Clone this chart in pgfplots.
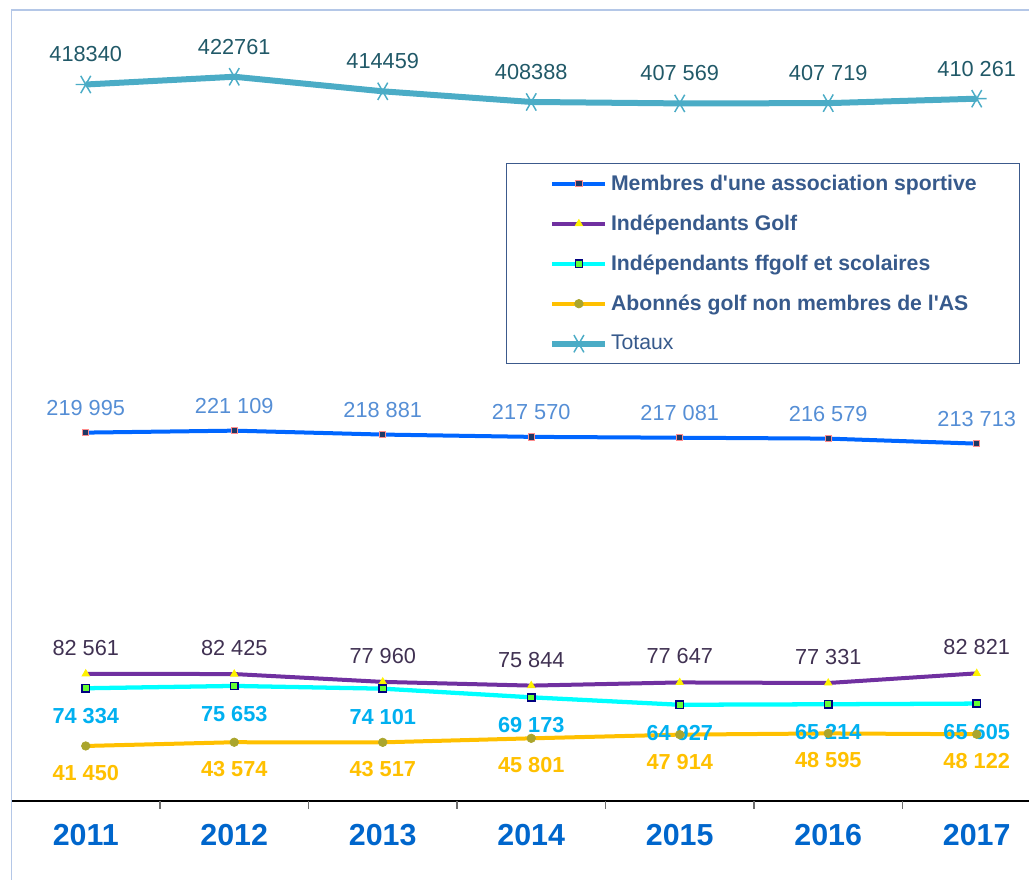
\documentclass[border=0pt]{standalone}
\usepackage{fontspec}
\setmainfont{Liberation Sans}
\usepackage{pgfplots}
\pgfplotsset{compat=1.18}
\definecolor{totalcol}{RGB}{75,172,198}
\definecolor{totallab}{RGB}{33,89,104}
\definecolor{blueline}{RGB}{0,102,255}
\definecolor{bluemark}{RGB}{31,56,100}
\definecolor{pinkmark}{RGB}{255,140,140}
\definecolor{bluelab}{RGB}{85,142,213}
\definecolor{purpline}{RGB}{112,48,160}
\definecolor{purplab}{RGB}{64,49,82}
\definecolor{cyanline}{RGB}{0,255,255}
\definecolor{cyanfill}{RGB}{102,255,51}
\definecolor{cyandraw}{RGB}{0,0,128}
\definecolor{cyanlab}{RGB}{0,176,240}
\definecolor{yelline}{RGB}{255,192,0}
\definecolor{yelmark}{RGB}{170,165,45}
\definecolor{yearblue}{RGB}{0,102,204}
\definecolor{legtext}{RGB}{55,90,140}
\definecolor{legborder}{RGB}{60,90,140}
\definecolor{framecol}{RGB}{180,199,231}
\definecolor{tickgray}{RGB}{110,110,110}
\begin{document}
\begin{tikzpicture}
\begin{axis}[
  name=ax,
  at={(0,0)}, anchor=south west,
  scale only axis,
  width=763.125pt, height=593.25pt,
  xmin=-0.5, xmax=6.352,
  ymin=10100, ymax=460800,
  axis x line*=bottom,
  axis y line=none,
  ytick=\empty,
  x axis line style={black, line width=1.2pt},
  xtick={0,1,2,3,4,5,6},
  xticklabels={2011,2012,2013,2014,2015,2016,2017},
  major tick length=0pt,
  xticklabel style={anchor=center, yshift=-25.5pt, font=\bfseries\fontsize{22.8}{23}\selectfont, text=yearblue},
  extra x ticks={-0.5,0.5,1.5,2.5,3.5,4.5,5.5},
  extra x tick labels={},
  extra x tick style={major tick length=6pt, tick align=outside, tick style={tickgray, line width=0.9pt}},
  clip=false,
  legend cell align=left,
  legend style={
    at={(0.486,0.8066)}, anchor=north west,
    draw=legborder, line width=1.1pt,
    inner xsep=32pt, inner ysep=0pt,
    row sep=0pt, column sep=2pt,
    font=\fontsize{15.9}{18}\selectfont,
    text=legtext,
    nodes={inner sep=0pt, minimum height=30pt, anchor=west},
  },
  legend image code/.code={\draw[mark repeat=2,mark phase=2,#1] plot coordinates {(0pt,0pt) (19.875pt,0pt) (39.75pt,0pt)};},
  every node near coord/.append style={anchor=center, font=\fontsize{16.3}{18}\selectfont},
]
\addplot[blueline, line width=3pt, mark=square*, mark size=2.4pt,
  mark options={fill=bluemark, draw=pinkmark, line width=0.75pt},
  nodes near coords, point meta=explicit symbolic,
  every node near coord/.append style={yshift=18.75pt, text=bluelab}]
  coordinates {(0,219995) [219 995] (1,221109) [221 109] (2,218881) [218 881] (3,217570) [217 570] (4,217081) [217 081] (5,216579) [216 579] (6,213713) [213 713]};
\addlegendentry{\bfseries Membres d\textquotesingle une association sportive}
\addplot[purpline, line width=3pt, mark=triangle*, mark size=3.2pt,
  mark options={fill=yellow, draw=yellow, line width=0.5pt},
  nodes near coords, point meta=explicit symbolic,
  every node near coord/.append style={yshift=19.5pt, text=purplab}]
  coordinates {(0,82561) [82 561] (1,82425) [82 425] (2,77960) [77 960] (3,75844) [75 844] (4,77647) [77 647] (5,77331) [77 331] (6,82821) [82 821]};
\addlegendentry{\bfseries Indépendants Golf}
\addplot[cyanline, line width=3.2pt, mark=square*, mark size=2.7pt,
  mark options={fill=cyanfill, draw=cyandraw, line width=1.2pt},
  nodes near coords, point meta=explicit symbolic,
  every node near coord/.append style={yshift=-21pt, text=cyanlab, font=\bfseries\fontsize{16.3}{18}\selectfont}]
  coordinates {(0,74334) [74 334] (1,75653) [75 653] (2,74101) [74 101] (3,69173) [69 173] (4,64927) [64 927] (5,65214) [65 214] (6,65605) [65 605]};
\addlegendentry{\bfseries Indépendants ffgolf et scolaires}
\addplot[yelline, line width=3pt, mark=*, mark size=3.2pt,
  mark options={fill=yelmark, draw=yelmark, line width=0.5pt},
  nodes near coords, point meta=explicit symbolic,
  every node near coord/.append style={yshift=-20.25pt, text=yelline, font=\bfseries\fontsize{16.3}{18}\selectfont}]
  coordinates {(0,41450) [41 450] (1,43574) [43 574] (2,43517) [43 517] (3,45801) [45 801] (4,47914) [47 914] (5,48595) [48 595] (6,48122) [48 122]};
\addlegendentry{\bfseries Abonnés golf non membres de l\textquotesingle AS}
\addplot[totalcol, line width=4.5pt, mark=asterisk, mark size=7.5pt,
  mark options={draw=totalcol, line width=1.1pt, rotate=90},
  nodes near coords, point meta=explicit symbolic,
  every node near coord/.append style={yshift=22.5pt, text=totallab}]
  coordinates {(0,418340) [418340] (1,422761) [422761] (2,414459) [414459] (3,408388) [408388] (4,407569) [407 569] (5,407719) [407 719] (6,410261) [410 261]};
\addlegendentry{Totaux}
\end{axis}
\draw[framecol, line width=1pt] ([yshift=-59.25pt]ax.south west) -- (ax.north west) -- (ax.north east);
\pgfresetboundingbox
\path[use as bounding box] ([xshift=-8.625pt,yshift=-59.25pt]ax.south west) rectangle ([yshift=7.5pt]ax.north east);
\end{tikzpicture}
\end{document}
